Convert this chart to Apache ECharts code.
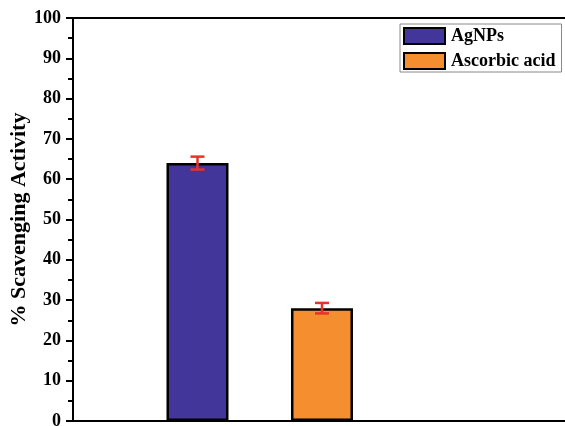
<!DOCTYPE html>
<html>
<head>
<meta charset="utf-8">
<script src="https://cdn.jsdelivr.net/npm/echarts@6/dist/echarts.min.js"></script>
<style>
  html, body { margin: 0; padding: 0; background: #fff; }
  #chart { width: 565px; height: 426px; }
</style>
</head>
<body>
<div id="chart"></div>
<script>
// Scavenging activity of silver nanoparticles vs. ascorbic acid standard
const samples = ['AgNPs', 'Ascorbic acid'];
const positions = [1, 2];
const activity = [64.0, 28.0];
const errors = [1.6, 1.3];
const colors = ['#43369b', '#f58e2e'];
const yTicks = { min: 0, max: 100, step: 10 };

const FONT = '"Liberation Serif", "Times New Roman", serif';

const barSeries = samples.map((name, i) => ({
  name: name,
  type: 'bar',
  xAxisIndex: 0,
  barWidth: 62,
  barGap: '-100%',
  itemStyle: { color: colors[i], borderColor: '#000', borderWidth: 2.5 },
  data: [[positions[i], activity[i]]]
}));

const errorSeries = {
  type: 'custom',
  xAxisIndex: 0,
  z: 10,
  data: samples.map((s, i) => [positions[i], activity[i] - errors[i], activity[i] + errors[i]]),
  renderItem: function (params, api) {
    const x = api.value(0);
    const lo = api.coord([x, api.value(1)]);
    const hi = api.coord([x, api.value(2)]);
    const half = 7;
    const style = { stroke: '#e5332a', lineWidth: 2.5 };
    return {
      type: 'group',
      children: [
        { type: 'line', shape: { x1: lo[0], y1: lo[1], x2: hi[0], y2: hi[1] }, style: style },
        { type: 'line', shape: { x1: hi[0] - half, y1: hi[1], x2: hi[0] + half, y2: hi[1] }, style: style },
        { type: 'line', shape: { x1: lo[0] - half, y1: lo[1], x2: lo[0] + half, y2: lo[1] }, style: style }
      ]
    };
  }
};

const chart = echarts.init(document.getElementById('chart'));
chart.setOption({
  animation: false,
  backgroundColor: '#fff',
  grid: { left: 73, right: 0, top: 18, bottom: 5, containLabel: false, outerBoundsMode: 'none' },
  legend: {
    orient: 'vertical',
    left: 400,
    top: 24,
    padding: [3, 6, 2, 3],
    itemGap: 7,
    itemWidth: 41,
    itemHeight: 16,
    icon: 'rect',
    borderColor: '#888',
    borderWidth: 1,
    data: samples,
    textStyle: { fontFamily: FONT, fontWeight: 'bold', fontSize: 18, color: '#000', padding: [0, 0, 0, 1] }
  },
  xAxis: [
    {
      type: 'value', position: 'bottom', min: 0, max: 3.952,
      axisLine: { show: true, onZero: false, lineStyle: { color: '#000', width: 2 } },
      axisTick: { show: false }, axisLabel: { show: false }, splitLine: { show: false }
    },
    {
      type: 'value', position: 'top', min: 0, max: 3.952,
      axisLine: { show: true, onZero: false, lineStyle: { color: '#000', width: 2 } },
      axisTick: { show: false }, axisLabel: { show: false }, splitLine: { show: false }
    }
  ],
  yAxis: {
    type: 'value',
    min: yTicks.min, max: yTicks.max, interval: yTicks.step,
    name: '% Scavenging Activity',
    nameLocation: 'middle',
    nameGap: 43,
    nameMoveOverlap: false,
    nameTextStyle: { fontFamily: FONT, fontWeight: 'bold', fontSize: 22, color: '#000' },
    axisLine: { show: true, lineStyle: { color: '#000', width: 2 } },
    axisTick: { show: true, inside: false, length: 7, lineStyle: { color: '#000', width: 2 } },
    minorTick: { show: true, splitNumber: 2, length: 5, lineStyle: { color: '#000', width: 2 } },
    axisLabel: { margin: 12, fontFamily: FONT, fontWeight: 'bold', fontSize: 18, color: '#000' },
    splitLine: { show: false }
  },
  series: [...barSeries, errorSeries]
});
</script>
</body>
</html>
